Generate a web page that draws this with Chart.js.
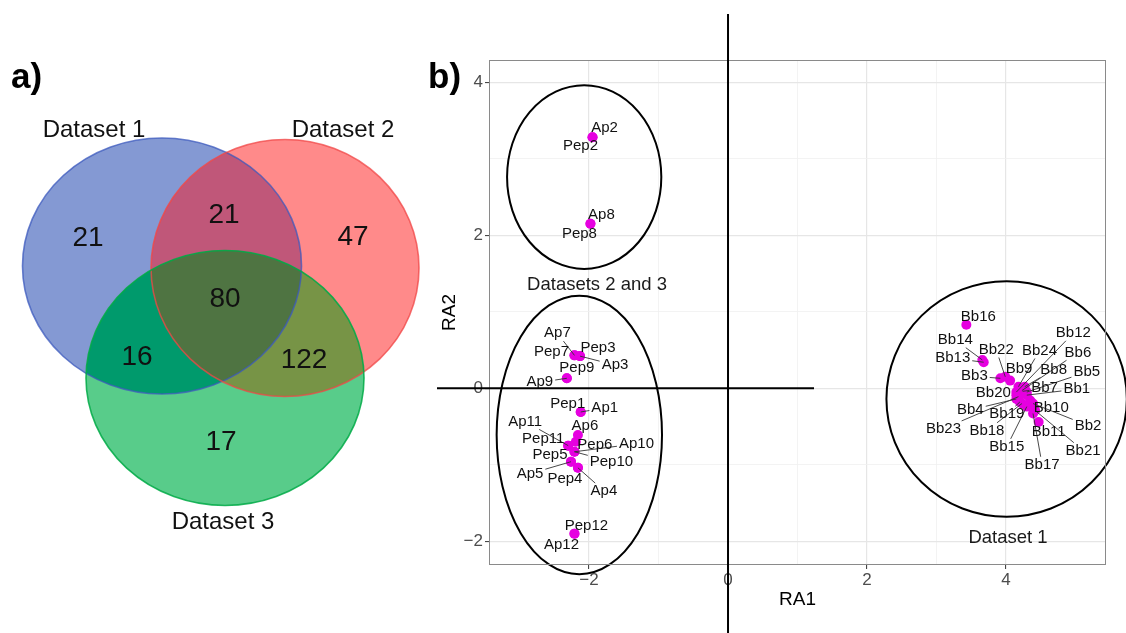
<!DOCTYPE html>
<html><head><meta charset="utf-8">
<script src="https://cdn.jsdelivr.net/npm/chart.js@4.4.0/dist/chart.umd.min.js"></script>
<style>
html,body{margin:0;padding:0;background:#fff;width:1126px;height:633px;overflow:hidden}
#venn{position:absolute;left:0;top:0}
#ra{position:absolute;left:425px;top:0}
</style></head><body>
<canvas id="venn" width="430" height="633"></canvas>
<canvas id="ra" width="701" height="633"></canvas>
<script>
// ---------------- DATA ----------------
// Panel a) Venn counts
const vennSetNames = ['Dataset 1', 'Dataset 2', 'Dataset 3'];
const vennRegionNames = ['1 only', '1 & 2', '2 only', '1 & 2 & 3', '1 & 3', '2 & 3', '3 only'];
const vennCounts = [21, 21, 47, 80, 16, 122, 17];

// Panel b) RA ordination scores
const apNames = ['Ap1','Ap2','Ap3','Ap4','Ap5','Ap6','Ap7','Ap8','Ap9','Ap10','Ap11','Ap12'];
const apRA1 = [-2.12,-1.95,-2.13,-2.16,-2.26,-2.16,-2.21,-1.98,-2.32,-2.21,-2.30,-2.21];
const apRA2 = [-0.31, 3.28, 0.42,-1.04,-0.96,-0.61, 0.43, 2.15, 0.13,-0.83,-0.75,-1.90];
const pepNames = ['Pep1','Pep2','Pep3','Pep4','Pep5','Pep6','Pep7','Pep8','Pep9','Pep10','Pep11','Pep12'];
const pepRA1 = [-2.12,-1.95,-2.13,-2.16,-2.26,-2.19,-2.21,-1.98,-2.32,-2.21,-2.30,-2.21];
const pepRA2 = [-0.31, 3.28, 0.42,-1.04,-0.96,-0.70, 0.43, 2.15, 0.13,-0.83,-0.75,-1.90];
const bbNames = ['Bb1','Bb2','Bb3','Bb4','Bb5','Bb6','Bb7','Bb8','Bb9','Bb10','Bb11','Bb12',
                 'Bb13','Bb14','Bb15','Bb16','Bb17','Bb18','Bb19','Bb20','Bb21','Bb22','Bb23','Bb24'];
const bbRA1 = [4.30,4.39,3.92,4.15,4.30,4.23,4.24,4.27,4.06,4.35,4.47,4.15,
               3.68,3.66,4.30,3.43,4.39,4.23,4.20,4.15,4.42,3.99,4.18,4.18];
const bbRA2 = [-0.09,-0.20,0.13,-0.14,-0.05,-0.03,-0.04,0.02,0.10,-0.16,-0.44,-0.05,
               0.34,0.37,-0.24,0.83,-0.33,-0.20,-0.18,-0.09,-0.29,0.15,-0.11,0.02];

// Group ellipses (data units)
const ellipseCx = [-2.07, -2.14, 4.01];
const ellipseCy = [ 2.76, -0.61, -0.14];
const ellipseRx = [ 1.11,  1.19, 1.73];
const ellipseRy = [ 1.20,  1.82, 1.54];
const groupLabels = ['Datasets 2 and 3', 'Dataset 1'];
const groupLabelRA1 = [-1.885, 4.03];
const groupLabelRA2 = [1.35, -1.95];

// Axis tick settings
const xMin = -3.44, xMax = 5.44, yMin = -2.31, yMax = 4.29;

// ---------------- LAYOUT (pixels, styling only) ----------------
const FONT = '"Liberation Sans", Arial, Helvetica, sans-serif';
Chart.defaults.font.family = FONT;
// label offsets (px) relative to each point
const apLabelDx = [24, 12, 35, 26, -41, 7, -17, 11, -27, 62, -43, -13];
const apLabelDy = [-4, -9, 9, 23, 12, -9, -22, -9, 4, -8, -24, 11];
const pepLabelDx = [-13, -12, 18, -13, -21, 19, -23, -11, 10, 37, -25, 12];
const pepLabelDy = [-8, 9, -8, 11, -7, 3, -3, 10, -10, 10, -7, -8];
const bbLabelDx = [50,55,-26,-46,60,56,22,29,9,21,10,57,-31,-27,-20,12,9,-35,-13,-23,48,-9,-75,21];
const bbLabelDy = [-6,22,-2,11,-20,-38,-3,-17,-12,7,10,-59,-4,-20,40,-8,51,27,12,-2,40,-27,32,-36];

// Venn geometry (venn canvas units = px)
const vennCx = [162, 285, 225], vennCy = [266, 268, 378];
const vennRx = [139.5, 134, 139], vennRy = [128, 128.5, 127.5];
const vennFill = ['#8499d3', '#ff8a8a', '#58cc8a'];
const vennEdge = ['rgba(60,90,190,0.75)', 'rgba(240,70,70,0.75)', 'rgba(0,170,70,0.85)'];
const pairFill = {'0-1': '#c05779', '0-2': '#009a6c', '1-2': '#779446'};
const tripleFill = '#4f7442';
const countPos = [[88,238],[224,215],[353,237],[225,299],[137,357],[304,360],[221,442]];
const setLabelPos = [[94,130],[343,130],[223,522]];

// ---------------- PANEL a) VENN ----------------
const vennPlugin = {
  id: 'venn',
  beforeDatasetsDraw(chart) {
    const ctx = chart.ctx, xs = chart.scales.x, ys = chart.scales.y;
    const path = i => {
      const px = xs.getPixelForValue(vennCx[i]), py = ys.getPixelForValue(vennCy[i]);
      const rx = Math.abs(xs.getPixelForValue(vennCx[i] + vennRx[i]) - px);
      const ry = Math.abs(ys.getPixelForValue(vennCy[i] + vennRy[i]) - py);
      ctx.beginPath(); ctx.ellipse(px, py, rx, ry, 0, 0, Math.PI * 2);
    };
    ctx.save();
    for (let i = 0; i < 3; i++) { path(i); ctx.fillStyle = vennFill[i]; ctx.fill(); }
    [[0,1],[0,2],[1,2]].forEach(([a,b]) => {
      ctx.save(); path(a); ctx.clip(); path(b); ctx.fillStyle = pairFill[a+'-'+b]; ctx.fill(); ctx.restore();
    });
    ctx.save(); path(0); ctx.clip(); path(1); ctx.clip(); path(2); ctx.fillStyle = tripleFill; ctx.fill(); ctx.restore();
    ctx.lineWidth = 1.6;
    for (let i = 0; i < 3; i++) { path(i); ctx.strokeStyle = vennEdge[i]; ctx.stroke(); }
    ctx.restore();
  },
  afterDatasetsDraw(chart) {
    const ctx = chart.ctx, xs = chart.scales.x, ys = chart.scales.y;
    const meta = chart.getDatasetMeta(0);
    ctx.save();
    ctx.fillStyle = '#111'; ctx.textAlign = 'center'; ctx.textBaseline = 'middle';
    ctx.font = '28px ' + FONT;
    meta.data.forEach((pt, i) => ctx.fillText(String(vennCounts[i]), pt.x, pt.y));
    ctx.font = '24px ' + FONT;
    vennSetNames.forEach((n, i) => ctx.fillText(n, xs.getPixelForValue(setLabelPos[i][0]), ys.getPixelForValue(setLabelPos[i][1])));
    ctx.font = 'bold 35px ' + FONT; ctx.textAlign = 'left'; ctx.textBaseline = 'alphabetic';
    ctx.fillStyle = '#000';
    ctx.fillText('a)', 11, 88);
    ctx.restore();
  }
};
new Chart(document.getElementById('venn'), {
  type: 'scatter',
  data: { datasets: [{ label: 'counts', data: countPos.map(p => ({x: p[0], y: p[1]})), pointRadius: 0 }] },
  options: {
    responsive: false, animation: false, events: [],
    layout: { padding: 0 },
    plugins: { legend: { display: false }, tooltip: { enabled: false } },
    scales: {
      x: { type: 'linear', min: 0, max: 430, display: false },
      y: { type: 'linear', min: 0, max: 633, reverse: true, display: false }
    }
  },
  plugins: [vennPlugin]
});

// ---------------- PANEL b) RA PLOT ----------------
const isEven = v => Math.abs(v % 2) < 1e-9;
const fmt = v => isEven(v) ? (v < 0 ? '\u2212' + (-v) : String(v)) : '';
const toPts = (xs, ys) => xs.map((x, i) => ({x, y: ys[i]}));
const POINT = '#e600e0';

const labelSets = [
  [apNames, apLabelDx, apLabelDy],
  [pepNames, pepLabelDx, pepLabelDy],
  [bbNames, bbLabelDx, bbLabelDy]
];

const raPlugin = {
  id: 'ra',
  afterDatasetsDraw(chart) {
    const ctx = chart.ctx, xs = chart.scales.x, ys = chart.scales.y;
    ctx.save();
    // ellipses
    ctx.strokeStyle = '#000'; ctx.lineWidth = 2;
    for (let i = 0; i < ellipseCx.length; i++) {
      const px = xs.getPixelForValue(ellipseCx[i]), py = ys.getPixelForValue(ellipseCy[i]);
      const rx = Math.abs(xs.getPixelForValue(ellipseCx[i] + ellipseRx[i]) - px);
      const ry = Math.abs(ys.getPixelForValue(ellipseCy[i] + ellipseRy[i]) - py);
      ctx.beginPath(); ctx.ellipse(px, py, rx, ry, 0, 0, Math.PI * 2); ctx.stroke();
    }
    // group labels
    ctx.fillStyle = '#1a1a1a'; ctx.textAlign = 'center'; ctx.textBaseline = 'middle';
    ctx.font = '18.5px ' + FONT;
    groupLabels.forEach((g, i) => ctx.fillText(g, xs.getPixelForValue(groupLabelRA1[i]), ys.getPixelForValue(groupLabelRA2[i])));
    // point labels with repel-like segments
    ctx.font = '15px ' + FONT;
    const h = 11.5;
    labelSets.forEach(([names, dxs, dys], di) => {
      const meta = chart.getDatasetMeta(di);
      meta.data.forEach((pt, i) => {
        const lx = pt.x + dxs[i], ly = pt.y + dys[i];
        const w = ctx.measureText(names[i]).width;
        const vx = pt.x - lx, vy = pt.y - ly;
        const tx = vx === 0 ? Infinity : (w / 2 + 2) / Math.abs(vx);
        const ty = vy === 0 ? Infinity : (h / 2 + 2) / Math.abs(vy);
        const t = Math.min(tx, ty);
        if (t < 1) {
          const sx = lx + t * vx, sy = ly + t * vy;
          const len = Math.hypot(pt.x - sx, pt.y - sy);
          if (len > 6) {
            ctx.beginPath(); ctx.moveTo(sx, sy); ctx.lineTo(pt.x, pt.y);
            ctx.strokeStyle = '#333'; ctx.lineWidth = 0.9; ctx.stroke();
          }
        }
      });
    });
    labelSets.forEach(([names, dxs, dys], di) => {
      const meta = chart.getDatasetMeta(di);
      meta.data.forEach((pt, i) => {
        ctx.fillStyle = '#111';
        ctx.fillText(names[i], pt.x + dxs[i], pt.y + dys[i]);
      });
    });
    ctx.restore();
  },
  afterDraw(chart) {
    const ctx = chart.ctx, a = chart.chartArea, xs = chart.scales.x, ys = chart.scales.y;
    ctx.save();
    // panel border
    ctx.strokeStyle = '#8a8a8a'; ctx.lineWidth = 1;
    ctx.strokeRect(a.left + 0.5, a.top + 0.5, a.right - a.left - 1, a.bottom - a.top - 1);
    // reference axes through zero
    ctx.strokeStyle = '#000'; ctx.lineWidth = 2;
    const x0 = xs.getPixelForValue(0), y0 = ys.getPixelForValue(0);
    ctx.beginPath(); ctx.moveTo(x0, 14); ctx.lineTo(x0, 633); ctx.stroke();
    ctx.beginPath(); ctx.moveTo(12, y0); ctx.lineTo(389, y0); ctx.stroke();
    // panel tag
    ctx.fillStyle = '#000'; ctx.font = 'bold 35px ' + FONT;
    ctx.textAlign = 'left'; ctx.textBaseline = 'alphabetic';
    ctx.fillText('b)', 3, 88);
    ctx.restore();
  }
};

const gridOpts = {
  color: c => (c.tick && isEven(c.tick.value)) ? '#e6e6e6' : '#f0f0f0',
  lineWidth: c => (c.tick && isEven(c.tick.value)) ? 1.2 : 0.8,
  drawTicks: true, tickLength: 4, tickWidth: 1,
  tickColor: c => (c.tick && isEven(c.tick.value)) ? '#333' : 'rgba(0,0,0,0)'
};
const keepIntegers = s => { s.ticks = s.ticks.filter(t => Math.abs(t.value - Math.round(t.value)) < 1e-9); };

new Chart(document.getElementById('ra'), {
  type: 'scatter',
  data: {
    datasets: [
      { label: 'Ap', data: toPts(apRA1, apRA2) },
      { label: 'Pep', data: toPts(pepRA1, pepRA2) },
      { label: 'Bb', data: toPts(bbRA1, bbRA2) }
    ].map(d => Object.assign(d, { backgroundColor: POINT, borderWidth: 0, pointRadius: 5 }))
  },
  options: {
    responsive: false, animation: false, events: [],
    layout: { padding: { left: 12, top: 60, right: 20, bottom: 10 } },
    plugins: { legend: { display: false }, tooltip: { enabled: false } },
    scales: {
      x: {
        type: 'linear', min: xMin, max: xMax,
        afterBuildTicks: keepIntegers,
        afterFit: s => { s.height = 58; },
        ticks: { stepSize: 1, autoSkip: false, maxRotation: 0, padding: 1, color: '#4d4d4d', font: { size: 17 }, callback: fmt },
        grid: gridOpts, border: { display: false },
        title: { display: true, text: 'RA1', color: '#000', font: { size: 19 }, padding: { top: 0, bottom: 12 } }
      },
      y: {
        type: 'linear', min: yMin, max: yMax,
        afterBuildTicks: keepIntegers,
        afterFit: s => { s.width = 52; },
        ticks: { stepSize: 1, autoSkip: false, padding: 2, color: '#4d4d4d', font: { size: 17 }, callback: fmt },
        grid: gridOpts, border: { display: false },
        title: { display: true, text: 'RA2', color: '#000', font: { size: 19 }, padding: { top: 1, bottom: 0 } }
      }
    }
  },
  plugins: [raPlugin]
});
</script>
</body></html>
